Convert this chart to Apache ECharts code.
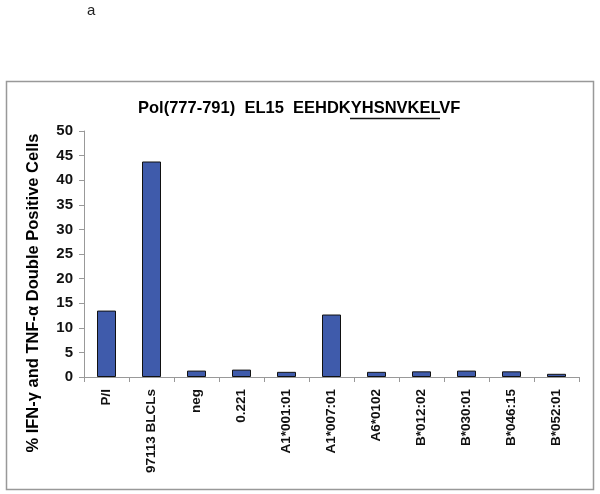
<!DOCTYPE html>
<html><head><meta charset="utf-8">
<script src="https://cdn.jsdelivr.net/npm/echarts@6/dist/echarts.min.js"></script>
<style>html,body{margin:0;padding:0;background:#fff}#c{width:600px;height:494px}</style>
</head><body><div id="c"></div>
<script>
const categories = ['P/I','97113 BLCLs','neg','0.221','A1*001:01','A1*007:01','A6*0102','B*012:02','B*030:01','B*046:15','B*052:01'];
const values = [13.5, 43.8, 1.3, 1.5, 1.05, 12.7, 1.05, 1.15, 1.3, 1.15, 0.65];
const yTicks = [0, 5, 10, 15, 20, 25, 30, 35, 40, 45, 50];
const titleText = 'Pol(777-791)  EL15  EEHDKYHSNVKELVF';
const yTitle = '% IFN-\u03b3 and TNF-\u03b1 Double Positive Cells';

const FF = 'Arial, "Liberation Sans", sans-serif';
const chart = echarts.init(document.getElementById('c'), null, {renderer: 'canvas'});
chart.setOption({
  animation: false,
  backgroundColor: '#fff',
  grid: {left: 84, right: 21, top: 131, bottom: 117},
  xAxis: {
    type: 'category', data: categories,
    axisLine: {lineStyle: {color: '#999', width: 1}},
    axisTick: {show: true, alignWithLabel: false, length: 5, lineStyle: {color: '#999'}},
    axisLabel: {rotate: 90, interval: 0, margin: 12, color: '#111', fontWeight: 'bold', fontSize: 13.5, fontFamily: FF}
  },
  yAxis: {
    type: 'value', min: 0, max: 50, interval: 5,
    splitLine: {show: false},
    axisLine: {show: true, lineStyle: {color: '#999'}},
    axisTick: {show: true, length: 5, lineStyle: {color: '#999'}},
    axisLabel: {color: '#111', fontWeight: 'bold', fontSize: 15, margin: 11, fontFamily: FF,
      formatter: v => yTicks.includes(v) ? String(v) : ''}
  },
  series: [{
    type: 'bar', data: values, barWidth: 19,
    itemStyle: {color: '#3f5bab', borderColor: '#111', borderWidth: 1}
  }],
  graphic: [
    {type: 'rect', shape: {x: 6.5, y: 81.5, width: 587, height: 408}, style: {fill: null, stroke: '#999', lineWidth: 1.5}, silent: true},
    {type: 'text', x: 87, y: 3, style: {text: 'a', fontSize: 15, fontFamily: FF, fill: '#222'}},
    {type: 'text', x: 138, y: 108, style: {text: titleText, fontSize: 16.5, fontWeight: 'bold', fontFamily: FF, fill: '#000', verticalAlign: 'middle'}},
    {type: 'line', shape: {x1: 350, y1: 118.5, x2: 440, y2: 118.5}, style: {stroke: '#111', lineWidth: 1.3}},
    {type: 'text', x: 33, y: 293, rotation: Math.PI / 2, style: {text: yTitle, fontSize: 16.5, fontWeight: 'bold', fontFamily: FF, fill: '#000', align: 'center', verticalAlign: 'middle'}}
  ]
});
</script></body></html>
